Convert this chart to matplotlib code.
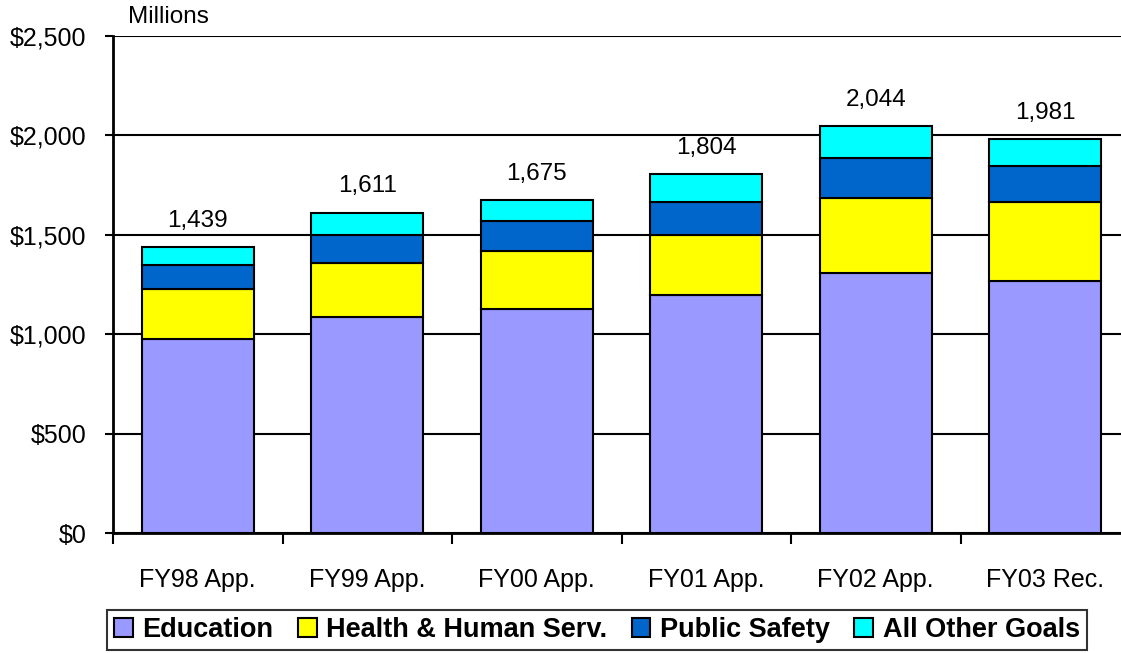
import matplotlib.pyplot as plt
import numpy as np

plt.rcParams['font.family'] = ['Liberation Sans', 'DejaVu Sans']

categories = ["FY98 App.", "FY99 App.", "FY00 App.", "FY01 App.", "FY02 App.", "FY03 Rec."]
education = [978, 1088, 1128, 1196, 1307, 1266]
health = [250, 269, 290, 304, 376, 397]
public_safety = [120, 143, 149, 163, 205, 181]
other_goals = [91, 111, 108, 141, 156, 137]
totals = [1439, 1611, 1675, 1804, 2044, 1981]

series = [("Education", education, "#9999ff"),
          ("Health & Human Serv.", health, "#ffff00"),
          ("Public Safety", public_safety, "#0066cc"),
          ("All Other Goals", other_goals, "#00ffff")]

fig = plt.figure(figsize=(11.21, 6.53), dpi=100)
ax = fig.add_axes([113/1121, 1-533.3/653, (1130-113)/1121, (533.3-35.7)/653])

x = np.arange(len(categories))
bottom = np.zeros(len(categories))
for name, vals, col in series:
    ax.bar(x, vals, 0.66, bottom=bottom, color=col, edgecolor="black", lw=1.5,
           label=name, zorder=3)
    bottom += np.array(vals)

for xi, t in zip(x, totals):
    ax.annotate(f"{t:,}", (xi, t), xytext=(0, 11), textcoords="offset points",
                ha="center", va="bottom", fontsize=17.5)

ax.set_ylim(0, 2500)
ax.set_xlim(-0.5, 5.5)
ax.set_yticks(np.arange(0, 2501, 500))
ax.set_yticklabels([f"${v:,}" for v in range(0, 2501, 500)])
ax.yaxis.grid(True, color="black", lw=1.5, zorder=0)
ax.set_xticks(np.arange(-0.5, 5.0, 1.0))
ax.set_xticklabels([])
ax.set_xticks(x, minor=True)
ax.set_xticklabels(categories, minor=True)
ax.tick_params(axis="x", which="major", length=8, width=1.5, direction="out")
ax.tick_params(axis="x", which="minor", length=0, pad=25, labelsize=18)
ax.tick_params(axis="y", length=6, width=1.5, pad=13, labelsize=18)
for s in ["top", "right"]:
    ax.spines[s].set_visible(False)
for s in ["left", "bottom"]:
    ax.spines[s].set_linewidth(2)

fig.text(128/1121, 1-17/653, "Millions", ha="left", va="center", fontsize=17.5)

leg = fig.legend(loc="upper left", bbox_to_anchor=(107/1121, 1-610/653), ncol=4,
                 frameon=True, fancybox=False, edgecolor="black",
                 prop={"weight": "bold", "size": 19.5},
                 handlelength=0.7, handleheight=0.7, handletextpad=0.35,
                 columnspacing=0.9, borderpad=0.25, borderaxespad=0)
leg.get_frame().set_linewidth(1.5)

fig.savefig("out.png", dpi=100)
